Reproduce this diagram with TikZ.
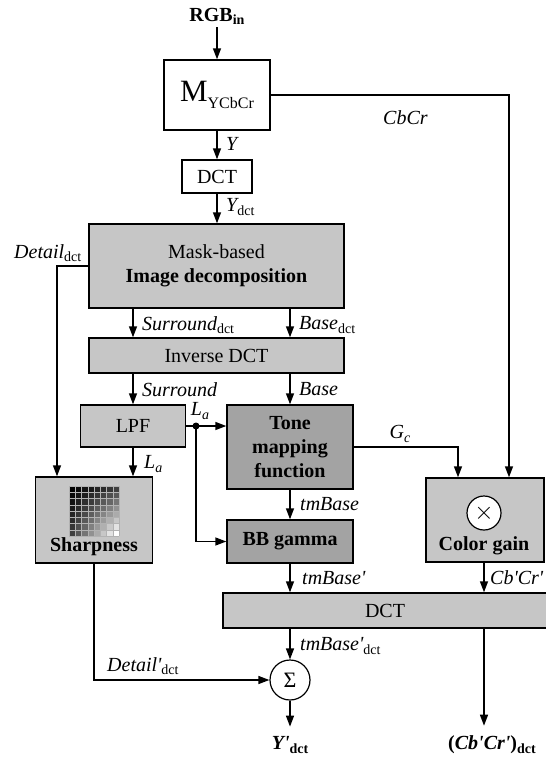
\documentclass[tikz,border=0pt]{standalone}
\usepackage{fontspec}
\setmainfont{Liberation Serif}[Ligatures=TeXOff]
\usetikzlibrary{arrows.meta,calc}
\definecolor{lgray}{RGB}{198,198,198}
\definecolor{dgray}{RGB}{163,163,163}
\newcommand{\sbu}[1]{\raisebox{-0.35ex}{\fontsize{14}{14}\selectfont\upshape #1}}
\newcommand{\sbi}[1]{\raisebox{-0.35ex}{\fontsize{14}{14}\selectfont\itshape #1}}
\begin{document}
\begin{tikzpicture}[x=1pt,y=-1pt,
  font=\fontsize{20}{24}\selectfont,
  box/.style={draw,line width=1.4pt,inner sep=0pt,align=center},
  lbox/.style={box,fill=lgray},
  dbox/.style={box,fill=dgray},
  arr/.style={line width=1.4pt,-{Triangle[length=11pt,width=8pt]}},
  ln/.style={line width=1.4pt},
  lab/.style={inner sep=0pt,anchor=west,font=\fontsize{20}{24}\selectfont\itshape},
  bld/.style={inner sep=0pt,font=\fontsize{20}{24}\selectfont\bfseries}]
\useasboundingbox (0,0) rectangle (546,758);

% nodes
\node[bld] (rgb) at (217,16) {RGB\sbu{\bfseries in}};
\node[box,minimum width=106pt,minimum height=70pt] (m) at (217,95)
  {\fontsize{31}{31}\selectfont M\raisebox{-0.45ex}{\fontsize{16}{16}\selectfont YCbCr}};
\node[box,minimum width=70pt,minimum height=33pt] (dct1) at (217,176.5) {DCT};
\node[lbox,minimum width=255pt,minimum height=84pt] (mask) at (216.5,266)
  {Mask-based\\\textbf{Image decomposition}};
\node[lbox,minimum width=255pt,minimum height=35pt] (inv) at (216.5,355.5) {Inverse DCT};
\node[lbox,minimum width=105pt,minimum height=42pt] (lpf) at (133,426) {LPF};
\node[dbox,minimum width=126pt,minimum height=84pt,font=\fontsize{20}{24}\selectfont\bfseries]
  (tone) at (290,447) {Tone\\mapping\\function};
\node[dbox,minimum width=126pt,minimum height=43pt,font=\fontsize{20}{24}\selectfont\bfseries]
  (bb) at (290,541.5) {BB gamma};
\node[lbox,minimum width=117pt,minimum height=86pt] (sharp) at (94,520) {};
\node[bld] (sharptxt) at (94,547) {Sharpness};
\node[lbox,minimum width=118pt,minimum height=84pt] (cg) at (485,520) {};
\node[draw,circle,fill=white,line width=1.2pt,minimum size=34pt,inner sep=0pt] (mul) at (484,513)
  {\fontsize{24}{24}\selectfont$\times$};
\node[bld] (cgtxt) at (484,546) {Color gain};
\node[lbox,minimum width=324pt,minimum height=35pt] (dct2) at (385,610.5) {DCT};
\node[draw,circle,fill=white,line width=1.2pt,minimum size=40pt,inner sep=0pt] (sig) at (290,680)
  {\fontsize{22}{22}\selectfont Σ};
\node[bld] (yout) at (290,745) {\textit{Y'}\sbu{\bfseries dct}};
\node[bld] (cbout) at (492,745) {(\textit{Cb'Cr'})\sbu{\bfseries dct}};

% sharpness pattern
\foreach \i in {0,...,7} {
  \foreach \j in {0,...,7} {
    \pgfmathtruncatemacro\p{100*(0.5*(\i+\j)/14+0.5*\i*\j/49)}
    \fill[white!\p!black] ({69+\i*6.25},{486+\j*6.25}) rectangle ++(6.25,6.25);
  }
}
\foreach \k in {0,...,8} {
  \draw[gray!60,line width=0.4pt] ({69+\k*6.25},486) -- ++(0,50);
  \draw[gray!60,line width=0.4pt] (69,{486+\k*6.25}) -- ++(50,0);
}

% connectors
\draw[arr] (rgb.south) ++(0,3) -- (m.north);
\draw[arr] (m.south) -- (dct1.north);
\draw[arr] (dct1.south) -- (dct1.south |- mask.north);
\draw[arr] (m.east) -| ([xshift=24pt]cg.north);
\draw[arr] (mask.west) -| ([xshift=-37pt]sharp.north);
\draw[arr] (mask.south -| lpf.north) -- (inv.north -| lpf.north);
\draw[arr] (mask.south -| tone.north) -- (inv.north -| tone.north);
\draw[arr] (inv.south -| lpf.north) -- (lpf.north);
\draw[arr] (inv.south -| tone.north) -- (tone.north);
\draw[arr] (lpf.south) -- (lpf.south |- sharp.north);
\draw[arr] (lpf.east) -- (lpf.east -| tone.west);
\coordinate (jn) at (196,426);
\fill (jn) circle (3.5pt);
\draw[arr] (jn) |- (bb.west);
\draw[arr] (tone.south) -- (bb.north);
\draw[arr] (tone.east) -| ([xshift=-27pt]cg.north);
\draw[arr] (bb.south) -- (bb.south |- dct2.north);
\draw[arr] (mul.center |- cg.south) -- (mul.center |- dct2.north);
\draw[arr] (dct2.south -| sig.north) -- (sig.north);
\draw[arr] (sharp.south) |- (sig.west);
\draw[arr] (sig.south) -- ++(0,26);
\draw[arr] (dct2.south -| mul.center) -- ++(0,97);

% labels
\node[lab] (lcbcr) at (383,118) {CbCr};
\node[lab] (ly) at (226,144) {Y};
\node[lab] (lydct) at (226,207) {Y\sbu{dct}};
\node[lab] (ldet) at (14,253) {Detail\sbu{dct}};
\node[lab] (lsurd) at (142,325) {Surround\sbu{dct}};
\node[lab] (lbased) at (299,325) {Base\sbu{dct}};
\node[lab] (lsur) at (142,390) {Surround};
\node[lab] (lbase) at (299,389) {Base};
\node[lab,anchor=center] (la1) at (200,411) {L\sbi{a}};
\node[lab] (la2) at (144,464) {L\sbi{a}};
\node[lab,anchor=center] (lgc) at (400,434) {G\sbi{c}};
\node[lab] (ltm) at (300,504) {tmBase};
\node[lab] (ltmp) at (302,578) {tmBase'};
\node[lab] (lcbp) at (490,578) {Cb'Cr'};
\node[lab] (ltmpd) at (300,646) {tmBase'\sbu{dct}};
\node[lab] (ldetp) at (107,666) {Detail'\sbu{dct}};
\end{tikzpicture}
\end{document}
